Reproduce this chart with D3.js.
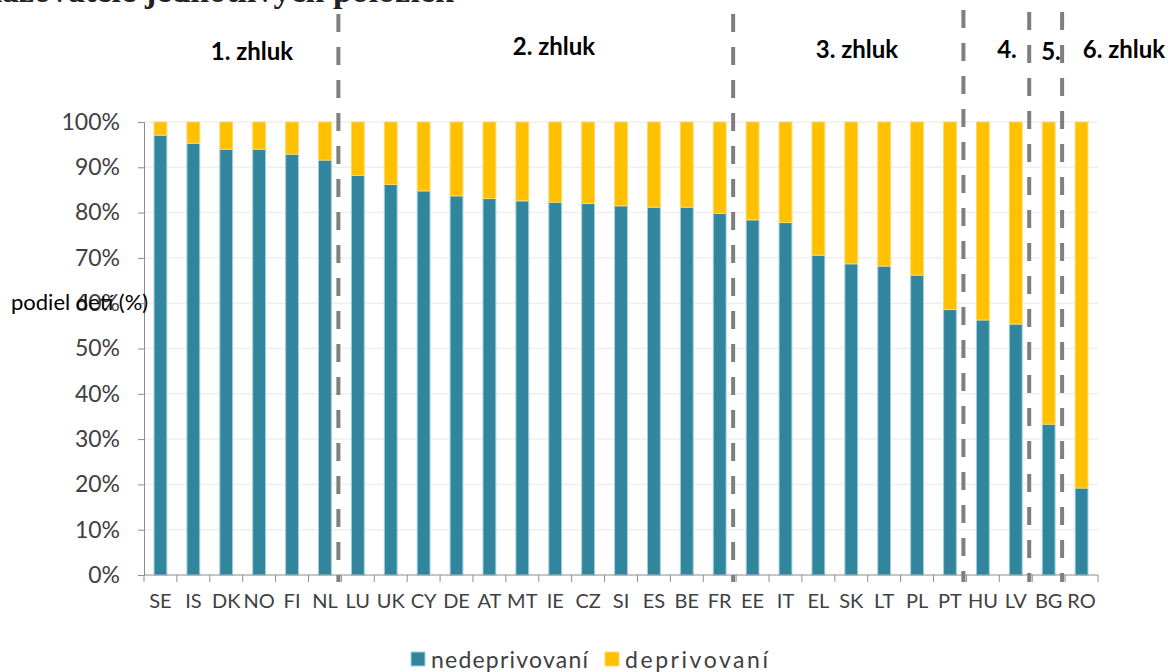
<!DOCTYPE html>
<html><head><meta charset="utf-8">
<script src="https://cdn.jsdelivr.net/npm/d3@7"></script>
<style>
html,body{margin:0;padding:0;background:#fff;}
svg{display:block;font-family:Lato,"Open Sans",sans-serif;}
</style></head>
<body>
<svg id="chart" width="1168" height="672"></svg>
<script>
const categories = ["SE","IS","DK","NO","FI","NL","LU","UK","CY","DE","AT","MT","IE","CZ","SI","ES","BE","FR","EE","IT","EL","SK","LT","PL","PT","HU","LV","BG","RO"];
const nedeprivovani = [97.1,95.3,94.0,94.0,92.9,91.6,88.2,86.2,84.8,83.7,83.1,82.6,82.3,82.0,81.5,81.2,81.2,79.8,78.4,77.8,70.6,68.7,68.2,66.2,58.6,56.3,55.4,33.3,19.2];
const deprivovani = nedeprivovani.map(v => +(100 - v).toFixed(1));
const yTicks = [0,10,20,30,40,50,60,70,80,90,100];
const seriesNames = ["nedeprivovaní","deprivovaní"];
const clusterLabels = ["1. zhluk","2. zhluk","3. zhluk","4.","5.","6. zhluk"];
const clusterStarts = [0,6,18,25,27,28];

(function(){
const svg = d3.select("#chart");
const mLeft = 144, mRight = 1098, mTop = 122, mBottom = 575;

const x = d3.scaleBand().domain(categories).range([mLeft, mRight]).paddingInner(0.58).paddingOuter(0.29);
const y = d3.scaleLinear().domain([0, 100]).range([mBottom, mTop]);
const colors = {"nedeprivovaní": "#31859C", "deprivovaní": "#FFC000"};
const strokes = {"nedeprivovaní": "#9fd0e0", "deprivovaní": "#ffd966"};

// cut-off title (only the bottom edge is visible in the original)
svg.append("text").attr("x", 136).attr("y", 2).attr("text-anchor", "end")
  .style("font-family", "'Liberation Serif',serif").style("font-weight", "bold").style("font-size", "34px")
  .style("fill", "#222").text("Ukazovatele");
svg.append("text").attr("x", 145).attr("y", 2)
  .style("font-family", "'Liberation Serif',serif").style("font-weight", "bold").style("font-size", "34px")
  .style("fill", "#222").text("jednotlivých položiek");

// gridlines
svg.append("g").selectAll("line").data(yTicks.filter(d => d > 0)).join("line")
  .attr("x1", mLeft).attr("x2", mRight).attr("y1", d => y(d)).attr("y2", d => y(d))
  .attr("stroke", "#efefef").attr("stroke-width", 1.5);

// stacked bars
const rows = categories.map((c, i) => ({cat: c, "nedeprivovaní": nedeprivovani[i], "deprivovaní": deprivovani[i]}));
const stack = d3.stack().keys(seriesNames)(rows);
svg.append("g").selectAll("g").data(stack).join("g")
  .attr("fill", d => colors[d.key]).attr("stroke", d => strokes[d.key]).attr("stroke-width", 1)
  .selectAll("rect").data(d => d).join("rect")
  .attr("x", d => x(d.data.cat) + 0.5)
  .attr("width", x.bandwidth() - 1)
  .attr("y", d => y(Math.min(100, d[1])))
  .attr("height", d => y(d[0]) - y(Math.min(100, d[1])));

// axes
const yAxis = svg.append("g").attr("transform", `translate(${mLeft},0)`)
  .call(d3.axisLeft(y).tickValues(yTicks).tickFormat(d => d + "%").tickSize(6).tickPadding(18));
yAxis.select(".domain").attr("stroke", "#8c8c8c");
yAxis.selectAll(".tick line").attr("stroke", "#8c8c8c");
yAxis.selectAll("text").style("font-size", "23px").style("fill", "#404040").style("font-family", "Lato,sans-serif");

const xAxis = svg.append("g").attr("transform", `translate(0,${mBottom})`)
  .call(d3.axisBottom(x).tickSize(0).tickPadding(19));
xAxis.select(".domain").attr("stroke", "#8c8c8c").attr("d", `M${mLeft},0H${mRight}`);
xAxis.selectAll("text").style("font-size", "20px").style("fill", "#404040").style("font-family", "Lato,sans-serif");
const step = x.step();
const boundaries = d3.range(categories.length + 1).map(i => mLeft + i * step);
svg.append("g").selectAll("line").data(boundaries).join("line")
  .attr("x1", d => d).attr("x2", d => d).attr("y1", mBottom).attr("y2", mBottom + 7)
  .attr("stroke", "#8c8c8c").attr("stroke-width", 1);

// cluster separators
const sepTops = [14, 14, 10, 12, 12];
svg.append("g").selectAll("line").data(clusterStarts.slice(1)).join("line")
  .attr("x1", d => mLeft + d * step - 3).attr("x2", d => mLeft + d * step - 3)
  .attr("y1", (d, i) => sepTops[i]).attr("y2", 582)
  .attr("stroke", "#7f7f7f").attr("stroke-width", 4).attr("stroke-dasharray", "18,15");

// cluster labels
const labelX = [252, 554, 857, 1007, 1051, 1124];
const labelY = [60, 55, 58, 58, 60, 58];
svg.append("g").selectAll("text").data(clusterLabels).join("text")
  .attr("x", (d, i) => labelX[i]).attr("y", (d, i) => labelY[i]).attr("text-anchor", "middle")
  .style("font-weight", "bold").style("font-size", "24px").style("fill", "#000").text(d => d);

// y label (overlapping 60% as in the original)
svg.append("text").attr("x", 11).attr("y", 310).style("font-size", "22px").style("fill", "#000")
  .text("podiel detí (%)");

// legend
const legX = [411, 605];
const legW = [157, 143];
seriesNames.forEach((s, i) => {
  svg.append("rect").attr("x", legX[i]).attr("y", 652).attr("width", 14).attr("height", 14)
    .attr("fill", colors[s]).attr("stroke", strokes[s]);
  svg.append("text").attr("x", legX[i] + 20).attr("y", 668).style("font-size", "23px")
    .style("fill", "#404040").attr("textLength", legW[i]).attr("lengthAdjust", "spacing").text(s);
});
})();
</script>
</body></html>
